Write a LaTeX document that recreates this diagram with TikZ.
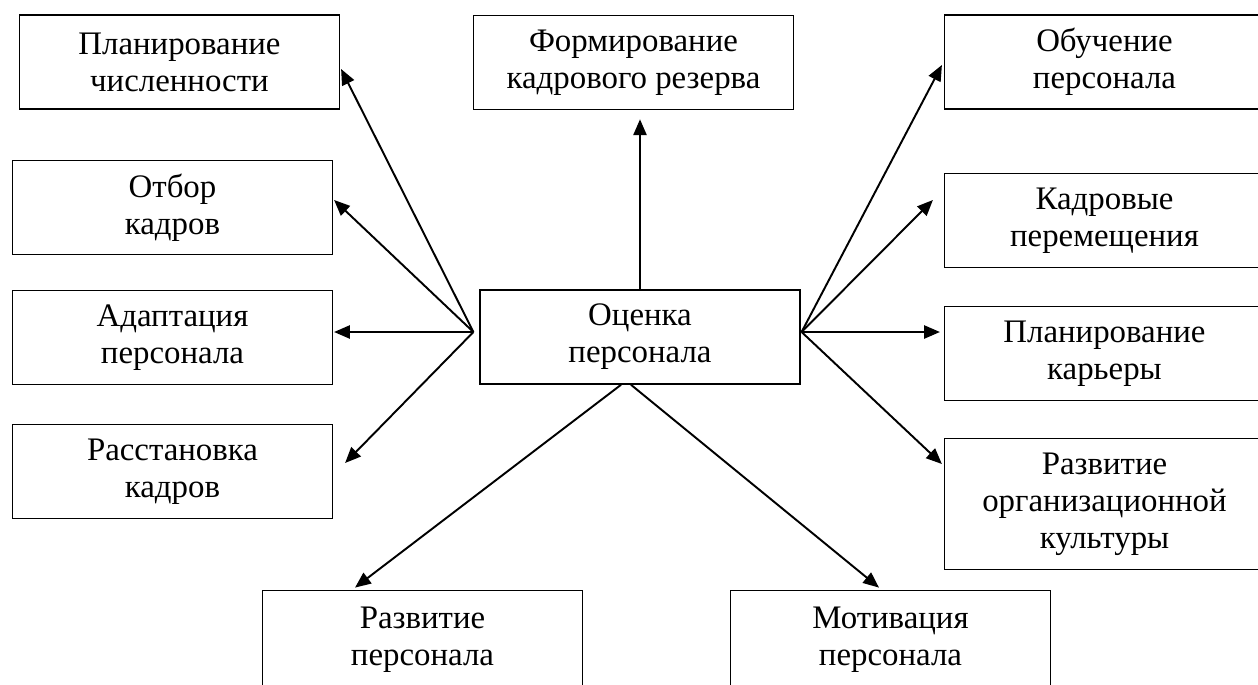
\documentclass[tikz,border=0pt]{standalone}
\usepackage{fontspec}
\setmainfont{Liberation Serif}
\usetikzlibrary{arrows.meta}

\begin{document}
\begin{tikzpicture}[x=0.02cm,y=-0.02cm]
\useasboundingbox (0,0) rectangle (1258,684);
\clip (0,0) rectangle (1258,684);
\begin{scope}[every node/.style={draw,line width=0.8pt,inner sep=0pt,align=center,
    minimum width=182pt,minimum height=53.6pt,font=\fontsize{18.7}{21}\selectfont}]
    \node (ocen) at (640,337) {Оценка\\персонала};
    \node (plan) at (179.5,62) {Планирование\\численности};
    \node (otbor) at (172.5,207.5) {Отбор\\кадров};
    \node (adapt) at (172.5,337.5) {Адаптация\\персонала};
    \node (rasst) at (172.5,471.5) {Расстановка\\кадров};
    \node (rezerv) at (633.5,62.5) {Формирование\\кадрового резерва};
    \node (obuch) at (1104.5,62) {Обучение\\персонала};
    \node (perem) at (1104.5,220.5) {Кадровые\\перемещения};
    \node (karera) at (1104.5,353.5) {Планирование\\карьеры};
    \node[minimum height=74.8pt] (kult) at (1104.5,504) {Развитие\\организационной\\культуры};
    \node[minimum height=56pt] (razv) at (422.5,639.5) {Развитие\\персонала};
    \node[minimum height=56pt] (motiv) at (890.5,639.5) {Мотивация\\персонала};
\end{scope}
\coordinate (L) at ([shift={(-6,-5)}]ocen.west);
\coordinate (R) at ([shift={(1,-5)}]ocen.east);
\begin{scope}[
    every edge/.style={draw=black,line width=1.1pt,-{Triangle[length=9pt,width=7.5pt]}}]
    \path (L) edge ([shift={(1,7)}]plan.east);
    \path (L) edge ([shift={(1,-7.5)}]otbor.east);
    \path (L) edge ([shift={(1,-5.5)}]adapt.east);
    \path (L) edge ([shift={(12,-8.5)}]rasst.east);
    \path (ocen.north) edge ([shift={(6.5,9)}]rezerv.south);
    \path (R) edge ([shift={(-2,3)}]obuch.west);
    \path (R) edge ([shift={(-11,-20.5)}]perem.west);
    \path (R) edge ([shift={(-4,-21.5)}]karera.west);
    \path (R) edge ([shift={(-2,-40)}]kult.west);
    %\path (ocen) edge (razv);
    \path ([shift={(-19,0)}]ocen.south) edge ([shift={(-67.5,-2)}]razv.north);
    \path ([shift={(-9,0)}]ocen.south) edge ([shift={(-11.5,-2)}]motiv.north);
\end{scope}
\end{tikzpicture}
\end{document}
